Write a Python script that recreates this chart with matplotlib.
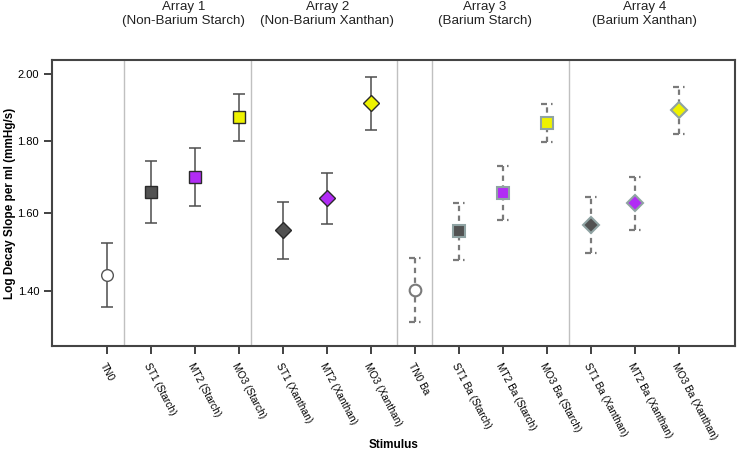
import numpy as np
import matplotlib
matplotlib.use("Agg")
import matplotlib.pyplot as plt
import matplotlib.ticker as mticker
from matplotlib.transforms import blended_transform_factory

stimuli = ["TN0", "ST1 (Starch)", "MT2 (Starch)", "MO3 (Starch)",
           "ST1 (Xanthan)", "MT2 (Xanthan)", "MO3 (Xanthan)",
           "TN0 Ba", "ST1 Ba (Starch)", "MT2 Ba (Starch)", "MO3 Ba (Starch)",
           "ST1 Ba (Xanthan)", "MT2 Ba (Xanthan)", "MO3 Ba (Xanthan)"]
means   = [1.440, 1.658, 1.699, 1.872, 1.555, 1.641, 1.913,
           1.403, 1.552, 1.654, 1.854, 1.569, 1.627, 1.890]
ci_low  = [1.360, 1.573, 1.619, 1.801, 1.480, 1.571, 1.833,
           1.325, 1.477, 1.581, 1.798, 1.494, 1.555, 1.821]
ci_high = [1.520, 1.744, 1.780, 1.941, 1.629, 1.710, 1.990,
           1.482, 1.626, 1.729, 1.910, 1.644, 1.699, 1.960]

arrays = ["Array 1\n(Non-Barium Starch)", "Array 2\n(Non-Barium Xanthan)",
          "Array 3\n(Barium Starch)", "Array 4\n(Barium Xanthan)"]
array_x = [1.73, 5.0, 8.58, 12.22]
separators = [0.39, 3.28, 6.58, 7.39, 10.5]
yticks = [1.40, 1.60, 1.80, 2.00]

fill = {"TN0": "white", "ST1": "#525252", "MT2": "#b12cf5", "MO3": "#eef200"}
narrow = ["Liberation Sans Narrow", "Liberation Sans", "DejaVu Sans"]
plt.rcParams['font.family'] = ["Liberation Sans", "DejaVu Sans"]

fig = plt.figure(figsize=(7.38, 4.53), dpi=100)
ax = fig.add_axes([0.070, 0.236, 0.926, 0.632])
# the reference axis is slightly compressed at the top, like log(y + 1)
ax.set_yscale('function', functions=(lambda v: np.log(v + 1), lambda t: np.exp(t) - 1))

x = np.arange(len(stimuli))
for i, name in enumerate(stimuli):
    lvl = name.split()[0]
    barium = " Ba" in name
    mk = "o" if lvl == "TN0" else ("D" if "Xanthan" in name else "s")
    ms = 8.4 if mk != "D" else 8.6
    m, lo, hi = means[i], ci_low[i], ci_high[i]
    if barium:
        ax.vlines(x[i], lo, hi, colors="#7a7a7a", linewidth=1.6,
                  linestyles=(0, (2.4, 2.0)), zorder=2)
        ax.hlines([lo, hi], x[i] - 0.14, x[i] + 0.14, colors="#7a7a7a",
                  linewidth=1.6, linestyles=(0, (2.7, 1.8, 0.7, 5)), zorder=2)
        mec = "#7a7a7a" if lvl == "TN0" else "#8fa3a3"
        ax.plot(x[i], m, marker=mk, ms=ms, mfc=fill[lvl], mec=mec, mew=1.5,
                ls="none", zorder=3)
    else:
        ax.errorbar(x[i], m, yerr=[[m - lo], [hi - m]], fmt="none",
                    ecolor="#4d4d4d", elinewidth=1.1, capsize=4, capthick=1.1,
                    zorder=2)
        mec = "#555555" if lvl == "TN0" else "#2a2a2a"
        ax.plot(x[i], m, marker=mk, ms=ms, mfc=fill[lvl], mec=mec, mew=1.0,
                ls="none", zorder=3)

for s in separators:
    ax.axvline(s, color="#c0c0c0", linewidth=1.0, zorder=1)

ax.set_xlim(-1.26, 14.27)
ax.set_ylim(1.267, 2.045)
ax.set_yticks(yticks)
ax.yaxis.set_major_formatter(mticker.FormatStrFormatter("%.2f"))
ax.yaxis.set_minor_locator(mticker.NullLocator())
ax.set_xticks(x)
ax.set_xticklabels(stimuli, rotation=-62, ha="left", va="top",
                   rotation_mode="anchor", fontsize=7.3, family=narrow)
for lab in ax.get_yticklabels():
    lab.set_family(narrow)
    lab.set_fontsize(8)
ax.tick_params(axis="both", length=6, width=1.3, color="#333333", pad=3)
ax.tick_params(axis="x", pad=5)

for sp in ax.spines.values():
    sp.set_color("#444444")
    sp.set_linewidth(1.5)

ax.set_ylabel("Log Decay Slope per ml (mmHg/s)", fontsize=8.5, fontweight="bold")
ax.yaxis.set_label_coords(-0.052, 0.5)
fig.text(0.533, 0.004, "Stimulus", fontsize=8.5, fontweight="bold",
         ha="center", va="bottom")

# group titles above the plot, near the top edge of the figure
trans = blended_transform_factory(ax.transData, fig.transFigure)
for txt, xp in zip(arrays, array_x):
    ax.text(xp, 0.997, txt, transform=trans, ha="center", va="top",
            fontsize=9.6, family=narrow, linespacing=1.15, color="#222222")

fig.savefig("out.png", dpi=100)
